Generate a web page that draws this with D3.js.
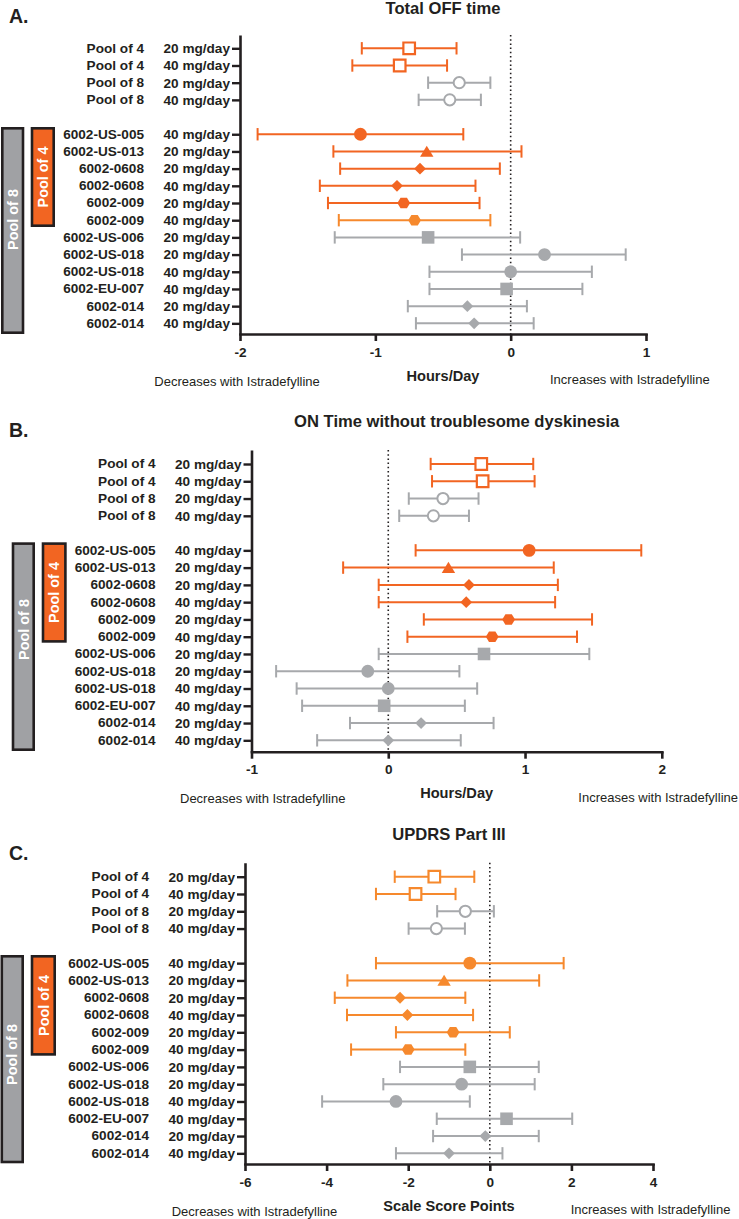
<!DOCTYPE html>
<html><head><meta charset="utf-8">
<script src="https://cdn.jsdelivr.net/npm/d3@7"></script>
<style>
body{margin:0;background:#fff}
svg{display:block}
text{font-family:"Liberation Sans",Arial,Helvetica,sans-serif;fill:#231f20}
</style>
</head><body>
<svg id="chart" width="739" height="1219"></svg>
<script>
// ---------------- DATA ----------------
const studies = ["Pool of 4","Pool of 4","Pool of 8","Pool of 8",
  "6002-US-005","6002-US-013","6002-0608","6002-0608","6002-009","6002-009",
  "6002-US-006","6002-US-018","6002-US-018","6002-EU-007","6002-014","6002-014"];
const doses = ["20 mg/day","40 mg/day","20 mg/day","40 mg/day",
  "40 mg/day","20 mg/day","20 mg/day","40 mg/day","20 mg/day","40 mg/day",
  "20 mg/day","20 mg/day","40 mg/day","40 mg/day","20 mg/day","40 mg/day"];
const slots = [0,1,2,3,5,6,7,8,9,10,11,12,13,14,15,16];
const shapes = ["openSquare","openSquare","openCircle","openCircle",
  "circle","triangle","diamond","diamond","hexagon","hexagon",
  "square","circle","circle","square","diamond","diamond"];
const groups = ["pool4","pool4","pool8","pool8",
  "pool4","pool4","pool4","pool4","pool4","pool4",
  "pool8","pool8","pool8","pool8","pool8","pool8"];

// Panel A: Total OFF time (hours/day)
const offMean = [-0.75,-0.82,-0.38,-0.45,-1.11,-0.62,-0.67,-0.84,-0.79,-0.71,-0.61,0.25,0.0,-0.03,-0.32,-0.27];
const offLow  = [-1.10,-1.17,-0.61,-0.68,-1.87,-1.31,-1.26,-1.41,-1.35,-1.27,-1.30,-0.36,-0.60,-0.60,-0.76,-0.70];
const offHigh = [-0.40,-0.47,-0.15,-0.22,-0.35,0.08,-0.08,-0.26,-0.23,-0.15,0.07,0.85,0.60,0.53,0.12,0.17];
const offTicks = [-2,-1,0,1];

// Panel B: ON time without troublesome dyskinesia (hours/day)
const onMean = [0.68,0.69,0.40,0.33,1.03,0.44,0.59,0.57,0.88,0.76,0.70,-0.15,0.0,-0.03,0.24,0.0];
const onLow  = [0.31,0.32,0.15,0.08,0.20,-0.33,-0.07,-0.07,0.26,0.14,-0.07,-0.82,-0.67,-0.63,-0.28,-0.52];
const onHigh = [1.06,1.07,0.66,0.59,1.85,1.21,1.24,1.22,1.49,1.38,1.47,0.52,0.65,0.56,0.77,0.53];
const onTicks = [-1,0,1,2];

// Panel C: UPDRS Part III (scale score points)
const updrsMean = [-1.36,-1.82,-0.60,-1.31,-0.49,-1.12,-2.20,-2.02,-0.90,-2.00,-0.49,-0.69,-2.30,0.41,-0.11,-1.00];
const updrsLow  = [-2.33,-2.79,-1.29,-1.99,-2.79,-3.49,-3.80,-3.50,-2.30,-3.40,-2.20,-2.61,-4.11,-1.30,-1.39,-2.30];
const updrsHigh = [-0.38,-0.84,0.10,-0.61,1.81,1.21,-0.60,-0.41,0.49,-0.60,1.20,1.10,-0.49,2.02,1.20,0.31];
const updrsTicks = [-6,-4,-2,0,2,4];

const panelLetters = ["A.","B.","C."];
const panelTitles = ["Total OFF time","ON Time without troublesome dyskinesia","UPDRS Part III"];
const axisTitles = ["Hours/Day","Hours/Day","Scale Score Points"];
const decreaseLabel = "Decreases with Istradefylline";
const increaseLabel = "Increases with Istradefylline";
const bracketLabels = ["Pool of 8","Pool of 4"];

// ---------------- STYLE / LAYOUT ----------------
const INK = "#231f20";
const GRAY = "#a7a9ac";
const BOXGRAY = "#a0a1a4";
const RED_ORANGE = "#f26522";
const LIGHT_ORANGE = "#f6892d";

const panels = [
  {mean:offMean, low:offLow, high:offHigh, ticks:offTicks,
   orange:[RED_ORANGE,RED_ORANGE,RED_ORANGE,RED_ORANGE,RED_ORANGE,RED_ORANGE,RED_ORANGE,RED_ORANGE,RED_ORANGE,LIGHT_ORANGE],
   axisX:240, axisEnd:646, slot0:48.3, step:17.19, axisTop:35, axisBottom:334,
   titleY:14, letterY:23.3, decX:154.3, incX:550,
   grayBox:[1,127,24.3,334], orangeBox:[30.7,127,55,227], grayTextY:219.5, orangeTextY:177},
  {mean:onMean, low:onLow, high:onHigh, ticks:onTicks,
   orange:Array(10).fill(RED_ORANGE),
   axisX:251.5, axisEnd:661.8, slot0:464, step:17.27, axisTop:450, axisBottom:751.7,
   titleY:427.3, letterY:437.3, decX:180, incX:578.3,
   grayBox:[11.7,542.3,35,751], orangeBox:[41.7,542.3,66.7,642.7], grayTextY:629.5, orangeTextY:592.5},
  {mean:updrsMean, low:updrsLow, high:updrsHigh, ticks:updrsTicks,
   orange:Array(10).fill(LIGHT_ORANGE),
   axisX:245, axisEnd:653, slot0:876.7, step:17.29, axisTop:862.7, axisBottom:1164,
   titleY:840, letterY:860, decX:171.7, incX:570.7,
   grayBox:[0.5,955,24,1163.3], orangeBox:[30.7,955,56,1055.7], grayTextY:1054.5, orangeTextY:1005.5}
];

const svg = d3.select("#chart");

function hexPath(r){
  const pts=[];
  for(let k=0;k<6;k++){const a=Math.PI/3*k; pts.push([r*Math.cos(a), r*Math.sin(a)*0.95]);}
  return "M"+pts.map(p=>p.join(",")).join("L")+"Z";
}
function shapePath(s){
  switch(s){
    case "openSquare": return "M-5.8,-5.8H5.8V5.8H-5.8Z";
    case "square": return "M-6.3,-6.3H6.3V6.3H-6.3Z";
    case "diamond": return "M0,-5.9L5.9,0L0,5.9L-5.9,0Z";
    case "triangle": return "M0,-5.8L6.7,5.4L-6.7,5.4Z";
    case "hexagon": return hexPath(6.4);
    default: return null;
  }
}

panels.forEach((p, pi) => {
  const g = svg.append("g");
  const [d0, d1] = [p.ticks[0], p.ticks[p.ticks.length-1]];
  const x = d3.scaleLinear().domain([d0, d1]).range([p.axisX, p.axisEnd]);
  const y = d3.scaleLinear()
    .domain([(p.axisTop - p.slot0)/p.step, (p.axisBottom - p.slot0)/p.step])
    .range([p.axisTop, p.axisBottom]);

  const colorOf = i => groups[i] === "pool4" ? p.orange[i] : GRAY;

  // panel letter and title
  g.append("text").attr("x", 9).attr("y", p.letterY)
    .attr("font-size", 19.5).attr("font-weight", "bold").text(panelLetters[pi]);
  g.append("text").attr("x", (p.axisX + p.axisEnd)/2).attr("y", p.titleY)
    .attr("text-anchor", "middle").attr("font-size", 16.6).attr("font-weight", "bold")
    .text(panelTitles[pi]);

  // bracket boxes
  const drawBox = (b, fill, label, ty) => {
    const sw = 2.6;
    g.append("rect").attr("x", b[0]+sw/2).attr("y", b[1]+sw/2)
      .attr("width", b[2]-b[0]-sw).attr("height", b[3]-b[1]-sw)
      .attr("fill", fill).attr("stroke", INK).attr("stroke-width", sw);
    const cx = (b[0]+b[2])/2;
    g.append("text").attr("transform", `translate(${cx},${ty}) rotate(-90)`)
      .attr("text-anchor", "middle").attr("dy", "0.36em")
      .attr("font-size", 14.4).attr("font-weight", "bold")
      .style("fill", "#ffffff").text(label);
  };
  drawBox(p.grayBox, BOXGRAY, bracketLabels[0], p.grayTextY);
  drawBox(p.orangeBox, RED_ORANGE, bracketLabels[1], p.orangeTextY);

  // zero reference line
  g.append("line").attr("x1", x(0)).attr("x2", x(0))
    .attr("y1", p.axisTop).attr("y2", p.axisBottom)
    .attr("stroke", INK).attr("stroke-width", 1.6)
    .attr("stroke-dasharray", "1.5,2.7");

  // y axis (dose labels)
  const yAxis = d3.axisLeft(y).tickValues(slots)
    .tickFormat(d => doses[slots.indexOf(d)])
    .tickSize(8).tickPadding(2).tickSizeOuter(0);
  const ya = g.append("g").attr("transform", `translate(${p.axisX},0)`).call(yAxis);
  ya.select(".domain").attr("stroke", INK).attr("stroke-width", 2.6);
  ya.selectAll(".tick line").attr("stroke", INK).attr("stroke-width", 2.4);
  ya.selectAll(".tick text").attr("font-size", 13.6).attr("font-weight", "bold")
    .attr("font-family", null).style("fill", INK);

  // study name labels
  g.selectAll(".study").data(studies).enter().append("text")
    .attr("x", p.axisX - 96).attr("y", (d,i) => y(slots[i]))
    .attr("dy", "0.32em").attr("text-anchor", "end")
    .attr("font-size", 13.6).attr("font-weight", "bold").text(d => d);

  // x axis
  const xAxis = d3.axisBottom(x).tickValues(p.ticks).tickFormat(d => String(d))
    .tickSize(7).tickPadding(6).tickSizeOuter(0);
  const xa = g.append("g").attr("transform", `translate(0,${p.axisBottom})`).call(xAxis);
  xa.select(".domain").attr("stroke", INK).attr("stroke-width", 2.6)
    .attr("stroke-linecap", "square");
  xa.selectAll(".tick line").attr("stroke", INK).attr("stroke-width", 2.6);
  xa.selectAll(".tick text").attr("font-size", 13.6).attr("font-weight", "bold")
    .attr("font-family", null).style("fill", INK);

  // axis title and side notes
  g.append("text").attr("x", (p.axisX + p.axisEnd)/2).attr("y", p.axisBottom + 46.7)
    .attr("text-anchor", "middle").attr("font-size", 14.6).attr("font-weight", "bold")
    .text(axisTitles[pi]);
  g.append("text").attr("x", p.decX).attr("y", p.axisBottom + 51.7)
    .attr("font-size", 13).text(decreaseLabel);
  g.append("text").attr("x", p.incX).attr("y", p.axisBottom + 50.2)
    .attr("font-size", 13).text(increaseLabel);

  // error bars
  const rows = studies.map((s,i) => ({i, mean:p.mean[i], lo:p.low[i], hi:p.high[i]}));
  const eb = g.append("g");
  rows.forEach(r => {
    const yy = y(slots[r.i]), c = colorOf(r.i);
    eb.append("line").attr("x1", x(r.lo)).attr("x2", x(r.hi)).attr("y1", yy).attr("y2", yy)
      .attr("stroke", c).attr("stroke-width", 2);
    [r.lo, r.hi].forEach(v => {
      eb.append("line").attr("x1", x(v)).attr("x2", x(v)).attr("y1", yy-6.2).attr("y2", yy+6.2)
        .attr("stroke", c).attr("stroke-width", 2);
    });
  });

  // markers
  rows.forEach(r => {
    const yy = y(slots[r.i]), c = colorOf(r.i), s = shapes[r.i];
    const t = `translate(${x(r.mean)},${yy})`;
    if (s === "openCircle") {
      g.append("circle").attr("transform", t).attr("r", 5.6)
        .attr("fill", "#fff").attr("stroke", c).attr("stroke-width", 2);
    } else if (s === "circle") {
      g.append("circle").attr("transform", t).attr("r", 6.4).attr("fill", c);
    } else if (s === "openSquare") {
      g.append("path").attr("transform", t).attr("d", shapePath(s))
        .attr("fill", "#fff").attr("stroke", c).attr("stroke-width", 2.2);
    } else {
      g.append("path").attr("transform", t).attr("d", shapePath(s)).attr("fill", c);
    }
  });
});
</script>
</body></html>
